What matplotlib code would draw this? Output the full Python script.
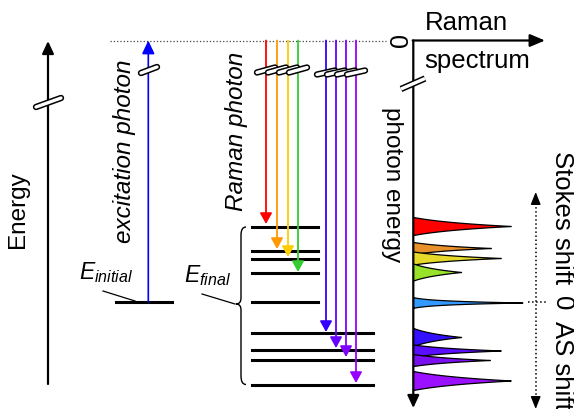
import numpy as np
import matplotlib.pyplot as plt
from matplotlib.path import Path
from matplotlib.patches import PathPatch

plt.rcParams['font.family'] = ['Liberation Sans', 'DejaVu Sans']
plt.rcParams['mathtext.fontset'] = 'custom'
plt.rcParams['mathtext.it'] = 'Liberation Sans:italic'
plt.rcParams['mathtext.rm'] = 'Liberation Sans'

# energy levels (screen units, larger = lower energy)
top_energy = 41.5
initial_level = 303
final_levels_upper = [228, 252, 260, 274, 303]
final_levels_lower = [334, 351, 361, 385.5]

# Raman photons (Stokes and anti-Stokes)
stokes_x = [266, 277, 288, 298]
stokes_end = [225, 250, 258, 273]
stokes_colors = ['#ff0000', '#ff9900', '#ffcc00', '#33cc33']
as_x = [326, 336, 346, 356]
as_end = [333, 349, 358, 384]
as_colors = ['#3300ff', '#6600ff', '#8000ff', '#9900ff']

# spectrum peaks
peak_center = [227, 249, 259, 273, 303.5, 338, 351.5, 361, 381.5]
peak_height = [98, 78, 88, 48, 110, 48, 88, 77, 98]
peak_halfbase = [9, 6, 6.5, 8.5, 5.3, 9, 6, 6, 9.5]
peak_sharp = [1.3, 1.3, 1.3, 1.3, 2.5, 1.3, 1.3, 1.3, 1.3]
peak_colors = ['#ff0000', '#e8902a', '#e6d92a', '#99e22a', '#3399ff',
               '#3311ff', '#5a0dff', '#7a10f0', '#9b10ff']

fig = plt.figure(figsize=(5.74, 4.10), dpi=100)
ax = fig.add_axes([0, 0, 1, 1])
ax.set_xlim(0, 574)
ax.set_ylim(410, 0)
ax.axis('off')


def arrow(x0, y0, x1, y1, color='black', lw=1.2, hl=0.65, hw=0.36):
    ax.annotate('', xy=(x1, y1), xytext=(x0, y0),
                arrowprops=dict(arrowstyle=f'-|>,head_length={hl},head_width={hw}',
                                color=color, lw=lw, shrinkA=0, shrinkB=0,
                                mutation_scale=10))


def pill(x0, y0, x1, y1, cap='round'):
    ax.plot([x0, x1], [y0, y1], color='black', lw=4.6, solid_capstyle=cap, zorder=5)
    ax.plot([x0, x1], [y0, y1], color='white', lw=2.4, solid_capstyle=cap, zorder=5)


# energy axis
arrow(48, 385, 48, 42, lw=1.6, hl=0.75, hw=0.35)
pill(36, 108, 61, 99)
ax.text(18, 210, 'Energy', rotation=90, ha='center', va='center', fontsize=17.5)

# virtual level
ax.plot([110, 386], [top_energy, top_energy], ls=':', color='#444444', lw=0.9)

# initial state + excitation photon
ax.plot([116, 172], [initial_level, initial_level], color='black', lw=2.2)
arrow(148.3, initial_level, 148.3, top_energy, color='#0000ff', lw=1.2, hl=0.8, hw=0.38)
pill(141, 74, 157, 68)
ax.text(125, 151, 'excitation photon', rotation=90, style='italic',
        ha='center', va='center', fontsize=17.5)
ax.text(79, 279, '$E_{initial}$', fontsize=16.5, ha='left', va='baseline')
ax.plot([103, 135], [292, 302], color='black', lw=0.9)

# final states
for y in final_levels_upper:
    ax.plot([251.7, 318.3], [y, y], color='black', lw=2.2)
for y in final_levels_lower:
    ax.plot([251.7, 373.3], [y, y], color='black', lw=2.2)
ax.text(184, 282, '$E_{final}$', fontsize=16.5, ha='left', va='baseline')
ax.plot([202, 235], [295, 305], color='black', lw=0.9)

# brace
verts = [(246, 228), (241, 228), (241, 236), (241, 299), (241, 305), (236, 305),
         (241, 305), (241, 311), (241, 377), (241, 385.5), (246, 385.5)]
codes = [Path.MOVETO, Path.CURVE3, Path.CURVE3, Path.LINETO, Path.CURVE3, Path.CURVE3,
         Path.CURVE3, Path.CURVE3, Path.LINETO, Path.CURVE3, Path.CURVE3]
ax.add_patch(PathPatch(Path(verts, codes), fill=False, lw=1.0, color='black'))

# Raman photons
for x, y1, c in zip(stokes_x, stokes_end, stokes_colors):
    arrow(x, top_energy, x, y1, color=c, lw=1.3)
for x, y1, c in zip(as_x, as_end, as_colors):
    arrow(x, top_energy, x, y1, color=c, lw=1.3)
for x in stokes_x:
    pill(x - 9, 73.5, x + 9, 68.5)
for x in as_x:
    pill(x - 9, 75.5, x + 9, 71.5)
ax.text(237, 131, 'Raman photon', rotation=90, style='italic',
        ha='center', va='center', fontsize=17.5)

# spectrum axes
x_axis = 413.3
arrow(x_axis, top_energy, x_axis, 409, lw=1.6, hl=0.75, hw=0.35)
arrow(x_axis - 0.6, top_energy, 545, top_energy, lw=1.6, hl=0.9, hw=0.38)
pill(401, 90, 425, 79.5, cap='butt')
ax.text(395, 42, '0', rotation=-90, ha='center', va='center', fontsize=18)
ax.text(466, 23, 'Raman', ha='center', va='center', fontsize=18.5)
ax.text(477, 61, 'spectrum', ha='center', va='center', fontsize=18.5)
ax.text(392, 185, 'photon energy', rotation=-90, ha='center', va='center', fontsize=17.5)

for c, h, d, k, col in zip(peak_center, peak_height, peak_halfbase, peak_sharp, peak_colors):
    y = np.linspace(c - d, c + d, 300)
    u = np.abs(y - c) / d
    x = h * (np.exp(-k * u) - np.exp(-k)) / (1 - np.exp(-k))
    ax.fill_betweenx(y, x_axis, x_axis + x, facecolor=col, edgecolor='black', lw=0.9, zorder=3)

# shift axis
shift_x = 535.7
ax.plot([shift_x, shift_x], [200, 403], ls=':', color='black', lw=1.1)
arrow(shift_x, 201, shift_x, 193, lw=1.0, hl=0.75, hw=0.3)
arrow(shift_x, 402, shift_x, 410, lw=1.0, hl=0.75, hw=0.3)
ax.plot([528, 547], [303.3, 303.3], ls=':', color='black', lw=1.1)
ax.text(562, 218, 'Stokes shift', rotation=-90, ha='center', va='center', fontsize=18.5)
ax.text(562, 303.5, '0', rotation=-90, ha='center', va='center', fontsize=18.5)
ax.text(562, 321, 'AS shift', rotation=-90, ha='center', va='top', fontsize=18.5)

fig.savefig('out.png', dpi=100)
